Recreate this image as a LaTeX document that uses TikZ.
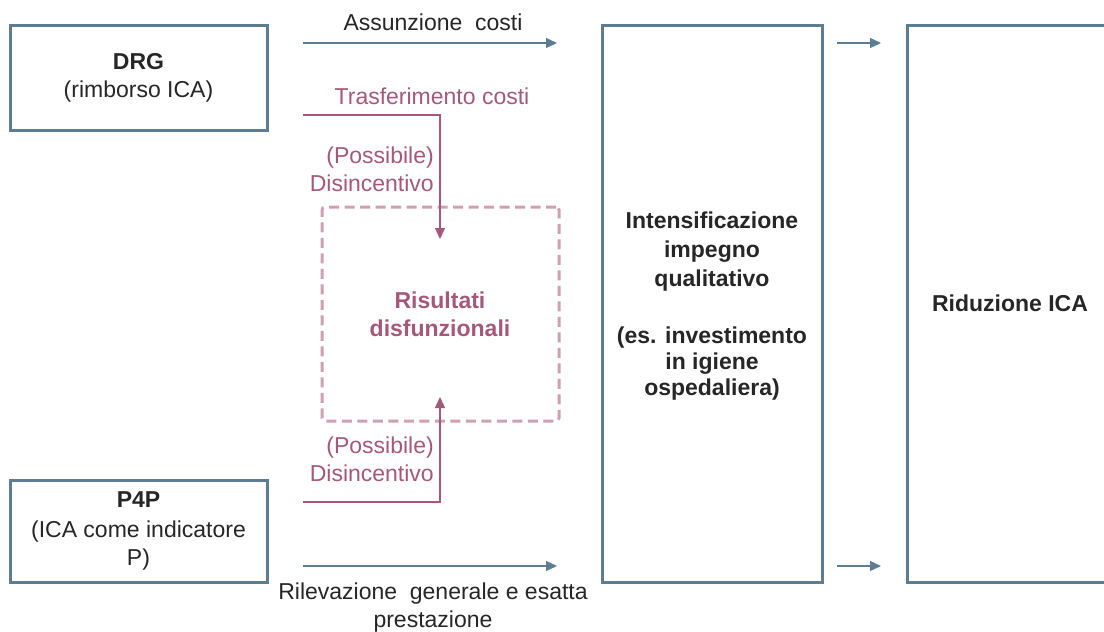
\documentclass[tikz,border=0pt]{standalone}
\usepackage{fontspec}
\setmainfont{Liberation Sans}
\usetikzlibrary{arrows.meta}
\definecolor{slate}{HTML}{5B7E92}
\definecolor{rose}{HTML}{A5587A}
\definecolor{roselight}{HTML}{CFA0B2}
\definecolor{ink}{HTML}{262626}
\begin{document}
\begin{tikzpicture}[x=1pt,y=-1pt,
  font=\fontsize{23}{28}\selectfont,
  box/.style={draw=slate, line width=3pt, inner sep=0pt, text=ink, align=center},
  flow/.style={draw=slate, line width=1.3pt, -{Triangle[length=11pt,width=10pt]}},
  roseflow/.style={draw=rose, line width=1.3pt, -{Triangle[length=11pt,width=10pt]}},
  lbl/.style={text=ink, align=center, inner sep=0pt},
  roselbl/.style={text=rose, align=center, inner sep=0pt},
  dashbox/.style={draw=roselight, line width=3pt, dash pattern=on 10pt off 5.5pt, rounded corners=3pt, inner sep=0pt}]
\useasboundingbox (0,0) rectangle (1104,632);
\clip (0,0) rectangle (1104,632);

% boxes
\node[box, minimum width=257pt, minimum height=105pt] (drg) at (138.5,77.5)
  {\textbf{DRG}\\(rimborso ICA)};
\node[box, minimum width=257pt, minimum height=102pt] (p4p) at (138.5,531)
  {\textbf{P4P}\\[2pt](ICA come indicatore\\P)};
\node[box, minimum width=220pt, minimum height=557pt] (int) at (712,303.5) {};
\node[lbl, font=\fontsize{23}{26}\selectfont\bfseries] (intt) at (712,306)
  {Intensificazione\\[3pt]impegno\\[3pt]qualitativo\\[31pt](es. investimento\\in igiene\\ospedaliera)};
\node[box, minimum width=206pt, minimum height=557pt] (rid) at (1010,303.5)
  {\textbf{Riduzione ICA}};
\node[dashbox, minimum width=237pt, minimum height=214pt] (dys) at (440.5,314) {};
\node[roselbl, font=\fontsize{23}{28}\selectfont\bfseries] (dyst) at (440,314) {Risultati\\disfunzionali};

% coordinates
\coordinate (a1s) at (303,43);  \coordinate (a1e) at (557,43);
\coordinate (a2s) at (303,566); \coordinate (a2e) at (557,566);
\coordinate (a3s) at (837,43);  \coordinate (a3e) at (881,43);
\coordinate (a4s) at (837,566); \coordinate (a4e) at (881,566);
\coordinate (r1s) at (303,115); \coordinate (r1e) at (440,239);
\coordinate (r2s) at (303,502); \coordinate (r2e) at (440,397);

% connectors
\draw[flow] (a1s) -- (a1e);
\draw[flow] (a2s) -- (a2e);
\draw[flow] (a3s) -- (a3e);
\draw[flow] (a4s) -- (a4e);
\draw[roseflow] (r1s) -| (r1e);
\draw[roseflow] (r2s) -| (r2e);

% labels
\node[lbl] (l1) at (433,22) {Assunzione\ \ costi};
\node[lbl] (l2) at (433,608) {Rilevazione\ \ generale e esatta\\prestazione};
\node[roselbl] (l3) at (432,96) {Trasferimento costi};
\node[roselbl, align=right, anchor=east] (l4) at (434,169.5) {(Possibile)\\Disincentivo};
\node[roselbl, align=right, anchor=east] (l5) at (434,459.5) {(Possibile)\\Disincentivo};
\end{tikzpicture}
\end{document}
